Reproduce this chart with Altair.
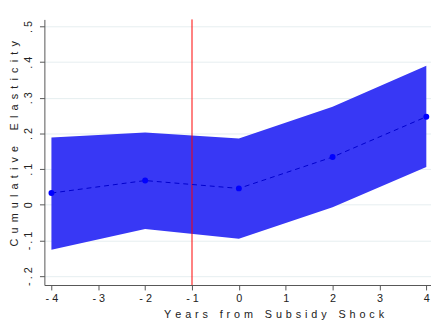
import altair as alt
import pandas as pd

years = [-4, -2, 0, 2, 4]
estimate = [0.033, 0.068, 0.046, 0.134, 0.247]
upper = [0.189, 0.203, 0.186, 0.275, 0.390]
lower = [-0.126, -0.068, -0.095, -0.007, 0.106]
x_ticks = [-4, -3, -2, -1, 0, 1, 2, 3, 4]
y_ticks = [-0.2, -0.1, 0, 0.1, 0.2, 0.3, 0.4, 0.5]
shock_year = [-1]

df = pd.DataFrame({"year": years, "est": estimate, "hi": upper, "lo": lower})
vline = pd.DataFrame({"year": shock_year})

FONT = "Liberation Sans"
NB = "\u00a0"


def spaced(s, gap):
    out = gap.join(list(s))
    return out.replace(gap + " " + gap, gap * 3)


xscale = alt.Scale(domain=[-4.15, 4.1], nice=False, zero=False)
yscale = alt.Scale(domain=[-0.225, 0.52], nice=False, zero=False)

xaxis = alt.Axis(
    values=x_ticks,
    title=spaced("Years from Subsidy Shock", NB + "\u200a"),
    titleX=233,
    labelExpr="join(split(toString(datum.value), ''), '\u00a0')",
    grid=False, domainColor="#555555", tickColor="#555555", tickSize=5,
    labelFont=FONT, titleFont=FONT, labelFontSize=11, titleFontSize=11,
    titleFontWeight="normal", labelColor="#222222", titleColor="#222222",
    titlePadding=5, labelPadding=3, labelOverlap=False,
)
yaxis = alt.Axis(
    values=y_ticks,
    title=spaced("Cumulative Elasticity", NB + "\u2009"),
    titleY=126,
    labelExpr="datum.value == 0 ? '0' : join(split((datum.value < 0 ? '-' : '') + '.' + toString(round(abs(datum.value) * 10)), ''), '\u00a0')",
    labelAngle=270, labelAlign="center", labelBaseline="bottom",
    grid=True, gridColor="#e6eef0", gridWidth=1,
    domainColor="#555555", tickColor="#555555", tickSize=5,
    labelFont=FONT, titleFont=FONT, labelFontSize=11, titleFontSize=11,
    titleFontWeight="normal", labelColor="#222222", titleColor="#222222",
    titlePadding=3, labelPadding=6, labelOverlap=False,
)

X = alt.X("year:Q", scale=xscale, axis=xaxis)

base = alt.Chart(df)
area = base.mark_area(color="#3838f5", opacity=1).encode(
    x=X,
    y=alt.Y("hi:Q", scale=yscale, axis=yaxis),
    y2="lo:Q",
)
rule = alt.Chart(vline).mark_rule(color="red", strokeWidth=1).encode(x=X)
line = base.mark_line(color="#0000cc", strokeDash=[5, 4], strokeWidth=1).encode(
    x=X, y=alt.Y("est:Q", scale=yscale, axis=yaxis)
)
pts = base.mark_circle(color="#0000ff", opacity=1, size=36).encode(
    x=X, y=alt.Y("est:Q", scale=yscale, axis=yaxis)
)

chart = alt.layer(area, rule, line, pts).properties(
    width=393, height=270,
    autosize=alt.AutoSizeParams(type="none"),
    padding={"left": 37, "top": 9, "right": 0, "bottom": 36},
    background="white",
).configure_view(stroke=None).configure_axis(labelOverlap=False)

chart.save("out.html", embed_options={"renderer": "svg", "actions": False})
